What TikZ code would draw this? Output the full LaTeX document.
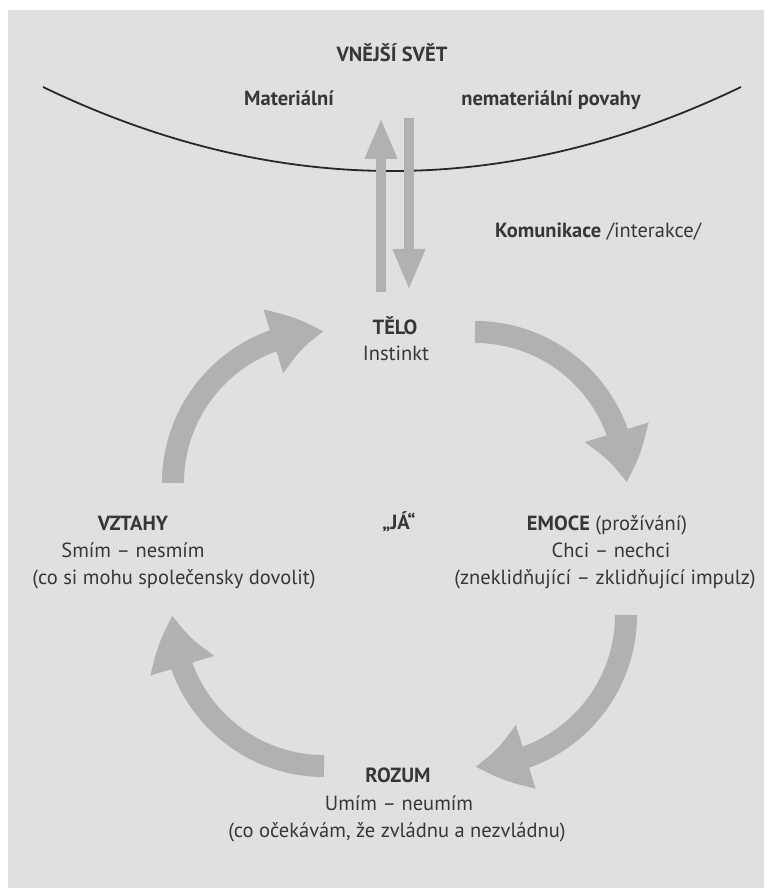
\documentclass[tikz,border=0pt]{standalone}
\usepackage{fontspec}
\setmainfont{PT Sans}
\usetikzlibrary{arrows.meta,bending}
\definecolor{bg}{RGB}{223,224,226}
\definecolor{arr}{RGB}{176,177,179}
\definecolor{ink}{RGB}{55,55,57}
\definecolor{curve}{RGB}{40,40,42}
\tikzset{
  lbl/.style={text=ink, font=\fontsize{20.5}{27}\selectfont, inner sep=0pt, anchor=mid},
  blbl/.style={lbl, font=\fontsize{20.5}{27}\selectfont\bfseries},
  straight/.style={draw=arr, line width=10pt, -{Triangle[width=30pt,length=41pt]}},
  round arrow/.style={draw=arr, line width=22pt, -{Triangle[width=62pt,length=53pt,bend]}}
}
\begin{document}
\begin{tikzpicture}[x=1pt,y=1pt]
\useasboundingbox (0,0) rectangle (764,894);
\fill[white] (0,0) rectangle (764,894);
\fill[bg] (8,6) rectangle (764,884);
% outer world curve
\coordinate (cl) at (43,807);
\coordinate (cr) at (741,807);
\draw[curve, line width=1.8pt] (cl) .. controls (275.7,695) and (508.3,695) .. (cr);
% labels
\node[blbl] (svet) at (392,835) {VNĚJŠÍ SVĚT};
\node[blbl] (mat) at (289,791) {Materiální};
\node[blbl] (nemat) at (551,791) {nemateriální povahy};
\node[lbl, anchor=mid west] (kom) at (495,659) {\textbf{Komunikace} /interakce/};
% communication arrows
\coordinate (upS) at (381,602);
\coordinate (upE) at (381,776);
\coordinate (dnS) at (409,776);
\coordinate (dnE) at (409,604);
\draw[straight] (upS) -- (upE);
\draw[straight] (dnS) -- (dnE);
% center texts
\node[blbl] (telo) at (395,562) {TĚLO};
\node[lbl] (inst) at (396,536) {Instinkt};
\node[blbl] (ja) at (399,367) {„JÁ“};
\node[blbl] (vztahy) at (133,366) {VZTAHY};
\node[lbl] (smim) at (133,339) {Smím – nesmím};
\node[lbl] (smim2) at (174,312) {(co si mohu společensky dovolit)};
\node[lbl] (emoce) at (607,366) {\textbf{EMOCE} (prožívání)};
\node[lbl] (chci) at (611,339) {Chci – nechci};
\node[lbl] (chci2) at (605,312) {(zneklidňující – zklidňující impulz)};
\node[blbl] (rozum) at (398,114) {ROZUM};
\node[lbl] (umim) at (399,86) {Umím – neumím};
\node[lbl] (umim2) at (397,59) {(co očekávám, že zvládnu a nezvládnu)};
% cycle arrows
\coordinate (a1) at (173,411);
\coordinate (a2) at (475,562);
\coordinate (a3) at (626,279);
\coordinate (a4) at (324,128);
\draw[round arrow] (a1) arc[start angle=180, end angle=90, radius=151pt];
\draw[round arrow] (a2) arc[start angle=90, end angle=0, radius=151pt];
\draw[round arrow] (a3) arc[start angle=0, end angle=-90, radius=151pt];
\draw[round arrow] (a4) arc[start angle=-90, end angle=-180, radius=151pt];
\end{tikzpicture}
\end{document}
